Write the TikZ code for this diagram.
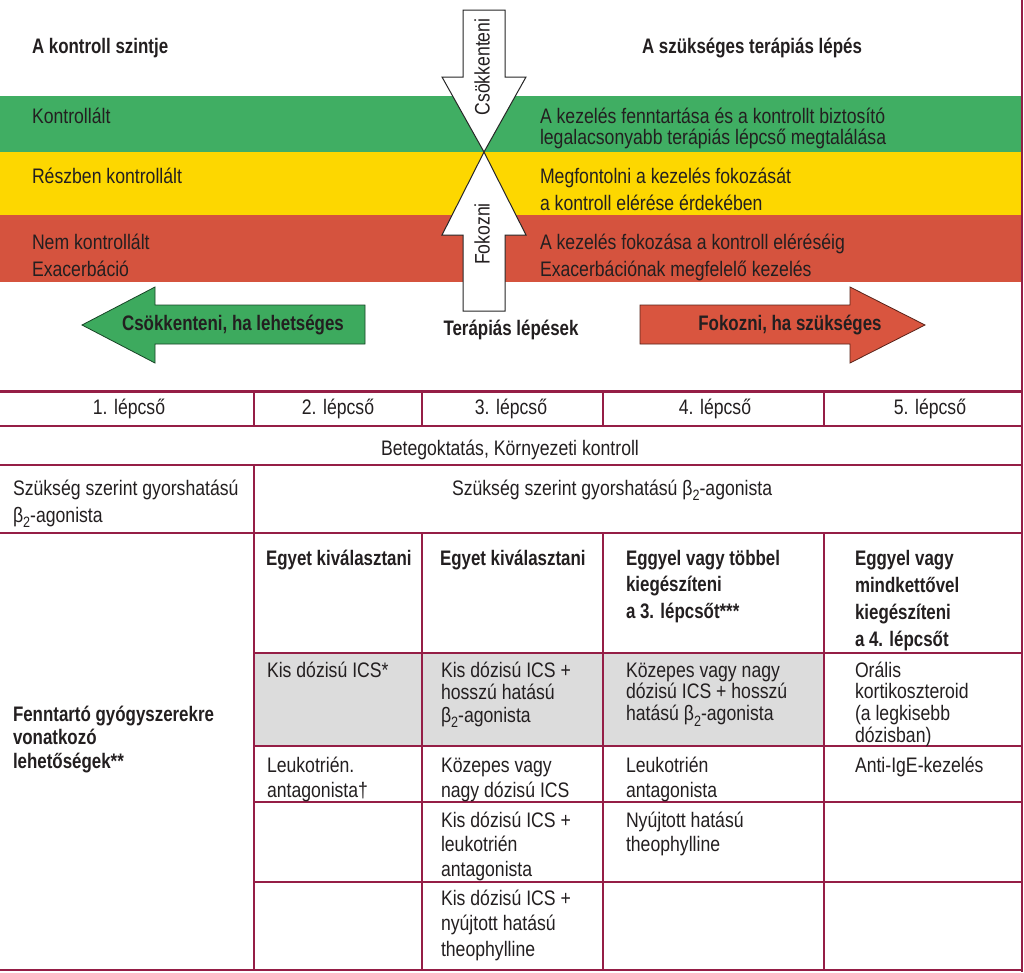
\documentclass[tikz,border=0pt]{standalone}
\usepackage{fontspec}
\setmainfont{Liberation Sans}[FakeStretch=0.84]
\newfontfamily\bcf{Liberation Sans}[FakeStretch=0.805]
\definecolor{bandgreen}{HTML}{40AE63}
\definecolor{bandyellow}{HTML}{FDD700}
\definecolor{bandred}{HTML}{D5533E}
\definecolor{arrgreen}{HTML}{3DAA5E}
\definecolor{arrred}{HTML}{D9553F}
\definecolor{maroon}{HTML}{951E46}
\definecolor{cellgray}{HTML}{DCDCDC}
\definecolor{ink}{HTML}{231F20}
\newcommand\ml[2]{\vtop{\baselineskip=#1pt\lineskip=0pt\lineskiplimit=-100pt\halign{##\hfil\cr#2\crcr}}}
\newcommand\bsub{β\raisebox{-0.28em}{\fontsize{15}{15}\selectfont 2}}
\newcommand\fsreg{\fontsize{21}{23}\selectfont}
\newcommand\fsbold{\bcf\bfseries\fontsize{21}{23}\selectfont}
\tikzset{
  txt/.style={inner sep=0pt, outer sep=0pt, anchor=base west, font=\fsreg, text=ink},
  btxt/.style={txt, font=\fsbold},
  ctxt/.style={txt, anchor=base},
  cbtxt/.style={btxt, anchor=base},
  varrow/.style={fill=white, draw=black!85, line width=1pt, line join=miter},
  garrow/.style={fill=arrgreen, draw=black!60!arrgreen, line width=0.8pt, line join=miter},
  rarrow/.style={fill=arrred, draw=black!60!arrred, line width=0.8pt, line join=miter},
  tline/.style={draw=maroon, line width=1.2pt},
  thline/.style={draw=maroon, line width=3pt},
}
\begin{document}
\begin{tikzpicture}[x=1pt, y=-1pt]
\useasboundingbox (0,0) rectangle (1024,972);
\fill[white] (0,0) rectangle (1024,972);
% colour bands
\fill[bandgreen] (0,96) rectangle (1022,152);
\fill[bandyellow] (0,152) rectangle (1022,215);
\fill[bandred] (0,215) rectangle (1022,282);
% vertical arrows
\draw[varrow] (463,10) -- (505,10) -- (505,77) -- (526,77) -- (484,152) -- (442,77) -- (463,77) -- cycle;
\draw[varrow] (484,152) -- (526,235) -- (505,235) -- (505,311) -- (463,311) -- (463,235) -- (442,235) -- cycle;
\node[txt, anchor=center, rotate=90] (down) at (482,67) {Csökkenteni};
\node[txt, anchor=center, rotate=90] (up) at (482,234) {Fokozni};
% headings
\node[btxt] (lvl) at (32,53) {A kontroll szintje};
\node[cbtxt] (step) at (752,53) {A szükséges terápiás lépés};
% band texts
\node[txt] (ctrl) at (32,123) {Kontrollált};
\node[txt] (ctrlR) at (540,123) {\ml{21.5}{A kezelés fenntartása és a kontrollt biztosító\cr legalacsonyabb terápiás lépcső megtalálása}};
\node[txt] (part) at (32,183) {Részben kontrollált};
\node[txt] (partR) at (540,183) {\ml{27}{Megfontolni a kezelés fokozását\cr a kontroll elérése érdekében}};
\node[txt] (unc) at (32,249) {\ml{27}{Nem kontrollált\cr Exacerbáció}};
\node[txt] (uncR) at (540,249) {\ml{27}{A kezelés fokozása a kontroll eléréséig\cr Exacerbációnak megfelelő kezelés}};
% horizontal arrows
\draw[garrow] (82,325) -- (155,287) -- (155,305) -- (365,305) -- (365,344) -- (155,344) -- (155,363) -- cycle;
\draw[rarrow] (925,325) -- (850,287) -- (850,305) -- (640,305) -- (640,344) -- (850,344) -- (850,363) -- cycle;
\node[cbtxt] (dec) at (233,330) {Csökkenteni, ha lehetséges};
\node[cbtxt] (ther) at (511,335) {Terápiás lépések};
\node[cbtxt] (inc) at (790,330) {Fokozni, ha szükséges};
% table background
\fill[cellgray] (254,653) rectangle (824,746);
% table lines
\draw[thline] (0,391) -- (1022,391);
\draw[tline] (0,426) -- (1022,426);
\draw[tline] (0,465) -- (1022,465);
\draw[tline] (0,533) -- (1022,533);
\draw[tline] (254,653) -- (1022,653);
\draw[tline] (254,746) -- (1022,746);
\draw[tline] (254,802) -- (1022,802);
\draw[tline] (254,882) -- (1022,882);
\draw[tline, line width=2pt] (0,970) -- (1022,970);
\foreach \cx in {254,422,603,824} {\draw[tline] (\cx,391) -- (\cx,426);}
\draw[tline] (254,465) -- (254,970);
\foreach \cx in {422,603,824} {\draw[tline] (\cx,533) -- (\cx,970);}
\draw[draw=maroon, line width=2.5pt] (1022,0) -- (1022,972);
% header row
\node[ctxt] (s1) at (129,414) {1. lépcső};
\node[ctxt] (s2) at (338,414) {2. lépcső};
\node[ctxt] (s3) at (511,414) {3. lépcső};
\node[ctxt] (s4) at (715,414) {4. lépcső};
\node[ctxt] (s5) at (930,414) {5. lépcső};
\node[ctxt] (edu) at (510,455) {Betegoktatás, Környezeti kontroll};
% reliever row
\node[txt] (relL) at (13,495) {\ml{27}{Szükség szerint gyorshatású\cr \bsub-agonista}};
\node[txt] (relR) at (452,495) {Szükség szerint gyorshatású \bsub-agonista};
% controller options
\node[btxt] (ctl) at (13,721) {\ml{23.5}{Fenntartó gyógyszerekre\cr vonatkozó\cr lehetőségek**}};
\node[btxt] (h2) at (266,565) {Egyet kiválasztani};
\node[btxt] (h3) at (440,565) {Egyet kiválasztani};
\node[btxt] (h4) at (626,565) {\ml{26.5}{Eggyel vagy többel\cr kiegészíteni\cr a 3. lépcsőt***}};
\node[btxt] (h5) at (855,565) {\ml{27}{Eggyel vagy\cr mindkettővel\cr kiegészíteni\cr a 4. lépcsőt}};
\node[txt] (a2) at (267,677) {Kis dózisú ICS*};
\node[txt] (a3) at (441,677) {\ml{22.5}{Kis dózisú ICS +\cr hosszú hatású\cr \bsub-agonista}};
\node[txt] (a4) at (626,677) {\ml{21.7}{Közepes vagy nagy\cr dózisú ICS + hosszú\cr hatású \bsub-agonista}};
\node[txt] (a5) at (855,677) {\ml{21.7}{Orális\cr kortikoszteroid\cr (a legkisebb\cr dózisban)}};
\node[txt] (b2) at (267,772) {\ml{25}{Leukotrién.\cr antagonista†}};
\node[txt] (b3) at (441,772) {\ml{25}{Közepes vagy\cr nagy dózisú ICS}};
\node[txt] (b4) at (626,772) {\ml{25}{Leukotrién\cr antagonista}};
\node[txt] (b5) at (855,772) {Anti-IgE-kezelés};
\node[txt] (c3) at (441,827) {\ml{24.5}{Kis dózisú ICS +\cr leukotrién\cr antagonista}};
\node[txt] (c4) at (626,827) {\ml{24.5}{Nyújtott hatású\cr theophylline}};
\node[txt] (d3) at (441,905) {\ml{25.5}{Kis dózisú ICS +\cr nyújtott hatású\cr theophylline}};
\end{tikzpicture}
\end{document}
